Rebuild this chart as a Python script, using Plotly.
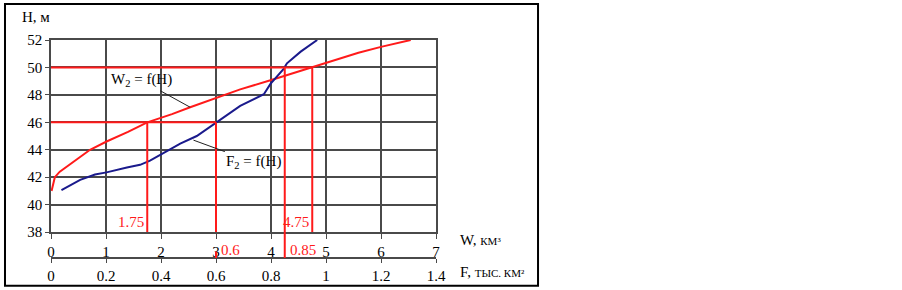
import plotly.graph_objects as go

# ---- data ----
# W2 = f(H): volume (km^3) vs level (m)
W_vol = [0.01, 0.04, 0.07, 0.16, 0.41, 0.71, 1.01, 1.4, 1.75, 2.2, 2.53, 3.0, 3.44, 4.02, 4.75, 5.0, 5.59, 6.0, 6.54]
H_vol = [41.0, 41.6, 42.0, 42.4, 43.1, 44.0, 44.6, 45.3, 46.0, 46.6, 47.1, 47.8, 48.4, 49.1, 50.0, 50.35, 51.07, 51.5, 52.0]
# F2 = f(H): area (thous. km^2) vs level (m)
F_area = [0.038, 0.106, 0.16, 0.202, 0.276, 0.324, 0.36, 0.404, 0.47, 0.53, 0.6, 0.688, 0.774, 0.798, 0.846, 0.858, 0.908, 0.968]
H_area = [41.05, 41.8, 42.2, 42.35, 42.7, 42.9, 43.2, 43.7, 44.45, 45.0, 46.0, 47.2, 48.05, 48.8, 49.9, 50.3, 51.15, 52.0]

# read-off levels and values
H_marks = [46, 50]
W_marks = [1.75, 4.75]
F_marks = [0.6, 0.85]
W_labels = ["1.75", "4.75"]
F_labels = ["0.6", "0.85"]

W_ticks = [0, 1, 2, 3, 4, 5, 6, 7]
F_ticks = [0, 0.2, 0.4, 0.6, 0.8, 1, 1.2, 1.4]
F_ticktext = ["0", "0.2", "0.4", "0.6", "0.8", "1", "1.2", "1.4"]
H_ticks = [38, 40, 42, 44, 46, 48, 50, 52]

F_TO_W = 5.0  # 1.4 thous. km^2 spans same length as 7 km^3

RED = "#ff1a1a"
BLUE = "#1a1a8c"
GRID = "#4a4a4a"
FONT = "Liberation Serif"
FS = 15

Y_DOM0 = 0.119
H_MIN, H_MAX = 38, 52

fig = go.Figure()

fig.add_trace(go.Scatter(x=W_vol, y=H_vol, mode="lines", line=dict(color=RED, width=2),
                         xaxis="x", yaxis="y", showlegend=False, hoverinfo="skip"))
fig.add_trace(go.Scatter(x=F_area, y=H_area, mode="lines", line=dict(color=BLUE, width=2),
                         xaxis="x2", yaxis="y", showlegend=False, hoverinfo="skip"))

shapes = []
for h, wv, fv in zip(H_marks, W_marks, F_marks):
    xend = max(wv, fv * F_TO_W)
    shapes.append(dict(type="line", xref="x", yref="y", x0=0, x1=xend, y0=h, y1=h,
                       line=dict(color=RED, width=2)))
    shapes.append(dict(type="line", xref="x", yref="y", x0=wv, x1=wv, y0=h, y1=H_MIN,
                       line=dict(color=RED, width=2)))
    shapes.append(dict(type="line", xref="x", yref="y", x0=fv * F_TO_W, x1=fv * F_TO_W, y0=h, y1=H_MIN,
                       line=dict(color=RED, width=2)))

# extension of area verticals down to the F axis
shapes.append(dict(type="line", xref="x", yref="paper", x0=F_marks[0] * F_TO_W, x1=F_marks[0] * F_TO_W,
                   y0=0, y1=0.03, line=dict(color=RED, width=2)))
shapes.append(dict(type="line", xref="x", yref="paper", x0=F_marks[1] * F_TO_W, x1=F_marks[1] * F_TO_W,
                   y0=0, y1=Y_DOM0, line=dict(color=RED, width=2)))

# outer frame
shapes.append(dict(type="rect", xref="paper", yref="paper", x0=-0.1195, x1=1.265, y0=-0.127, y1=1.165,
                   line=dict(color="black", width=2), layer="below"))

annotations = []
for wv, lab in zip(W_marks, W_labels):
    annotations.append(dict(x=wv, y=38.75, xref="x", yref="y", text=lab, showarrow=False,
                            xanchor="right", xshift=-1, font=dict(family=FONT, size=FS, color=RED)))
for fv, lab in zip(F_marks, F_labels):
    annotations.append(dict(x=fv * F_TO_W, y=0.035, xref="x", yref="paper", text=lab, showarrow=False,
                            xanchor="left", xshift=3, yanchor="middle",
                            font=dict(family=FONT, size=FS, color=RED)))

# curve labels with leader lines
annotations.append(dict(x=2.53, y=47.1, xref="x", yref="y", text="W<sub>2</sub> = f(H)",
                        showarrow=True, arrowhead=0, arrowwidth=1, arrowcolor="#222",
                        ax=-49, ay=-27, font=dict(family=FONT, size=FS, color="black")))
annotations.append(dict(x=0.518, y=44.7, xref="x2", yref="y", text="F<sub>2</sub> = f(H)",
                        showarrow=True, arrowhead=0, arrowwidth=1, arrowcolor="#222",
                        ax=60, ay=22, font=dict(family=FONT, size=FS, color="black")))

# axis titles
annotations.append(dict(x=-0.08, y=1.106, xref="paper", yref="paper", text="H, м", showarrow=False,
                        xanchor="left", yanchor="middle", font=dict(family=FONT, size=FS, color="black")))
annotations.append(dict(x=1.057, y=0.083, xref="paper", yref="paper",
                        text="W, <span style='font-size:11px'>КМ³</span>", showarrow=False,
                        xanchor="left", yanchor="middle", font=dict(family=FONT, size=FS, color="black")))
annotations.append(dict(x=1.057, y=-0.064, xref="paper", yref="paper",
                        text="F, <span style='font-size:11px'>ТЫС. КМ²</span>", showarrow=False,
                        xanchor="left", yanchor="middle", font=dict(family=FONT, size=FS, color="black")))

fig.update_layout(
    width=902, height=290,
    margin=dict(l=51, r=466, t=40, b=32, autoexpand=False),
    paper_bgcolor="white", plot_bgcolor="white",
    font=dict(family=FONT, size=FS, color="black"),
    xaxis=dict(range=[0, 7], tickvals=W_ticks, ticktext=[str(v) for v in W_ticks],
               showgrid=True, gridcolor=GRID, gridwidth=1.5,
               showline=True, linecolor=GRID, linewidth=1.5, mirror=True,
               ticks="outside", ticklen=5, tickcolor=GRID, anchor="y",
               zeroline=False, automargin=False, tickfont=dict(family=FONT, size=FS)),
    xaxis2=dict(range=[0, 1.4], tickvals=F_ticks, ticktext=F_ticktext,
                overlaying="x", anchor="free", position=0, side="bottom",
                showgrid=False, showline=True, linecolor=GRID, linewidth=1.5,
                ticks="outside", ticklen=4, tickcolor=GRID, zeroline=False,
                automargin=False, tickfont=dict(family=FONT, size=FS)),
    yaxis=dict(range=[H_MIN, H_MAX], tickvals=H_ticks, domain=[Y_DOM0, 1],
               showgrid=True, gridcolor=GRID, gridwidth=1.5,
               showline=True, linecolor=GRID, linewidth=1.5, mirror=True,
               ticks="outside", ticklen=4, tickcolor=GRID, zeroline=False,
               automargin=False, tickfont=dict(family=FONT, size=FS)),
    shapes=shapes,
    annotations=annotations,
)

fig.write_html("out.html", config={"displayModeBar": False},
               post_script="document.body.style.margin='0';document.body.style.overflow='hidden';")
